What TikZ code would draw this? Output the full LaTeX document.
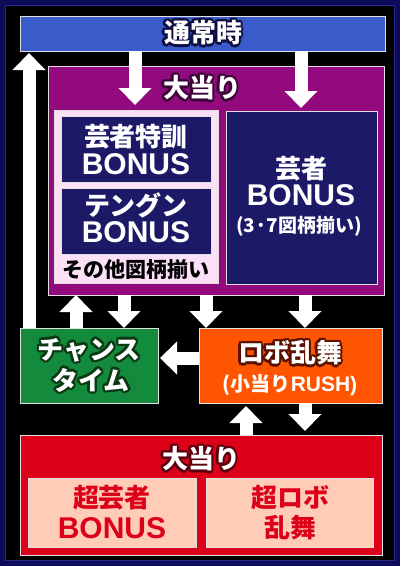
\documentclass[tikz,border=0pt]{standalone}
\usepackage{fontspec}
\newfontfamily\jp{Noto Sans CJK JP}
\newfontfamily\lat{Liberation Sans}
\usetikzlibrary{arrows.meta}
\definecolor{navyO}{HTML}{0C0C5A}
\definecolor{navyEdge}{HTML}{2A2A8A}
\definecolor{barblue}{HTML}{3A5CCA}
\definecolor{purp}{HTML}{920A7E}
\definecolor{pinkL}{HTML}{FBE0F8}
\definecolor{navyB}{HTML}{1C1A66}
\definecolor{grn}{HTML}{148A3C}
\definecolor{orng}{HTML}{FF5500}
\definecolor{redB}{HTML}{DC0018}
\definecolor{salm}{HTML}{FFCCB8}
\definecolor{olNavy}{HTML}{0E0E40}
\definecolor{olPurp}{HTML}{3A0638}
\definecolor{olGreen}{HTML}{0A3A14}
\definecolor{olBrown}{HTML}{5A1200}
\definecolor{olRed}{HTML}{5A0010}
\newcommand\olabel[5]{%
  \foreach \ang in {0,30,...,330}{\node[inner sep=0, text=#3, font=#4] at ([shift={(\ang:2.3pt)}]#2) {#5};}
  \node[inner sep=0, text=white, font=#4] (#1) at (#2) {#5};}
\begin{document}
\begin{tikzpicture}[x=1pt,y=-1pt,
  box/.style={draw=white!88!black, line width=1pt, inner sep=0, outer sep=0, anchor=north west},
  warrow/.style={draw=white, line width=13pt, -{Triangle[width=32pt,length=17pt]}},
  lbl/.style={inner sep=0},
  jpb/.style={font=\jp\bfseries\fontsize{26}{28}\selectfont},
  bon/.style={font=\lat\bfseries\fontsize{30}{32}\selectfont},
  jps/.style={font=\jp\bfseries\fontsize{19}{21}\selectfont}]
\useasboundingbox (0,0) rectangle (400,566);
\fill[navyO] (0,0) rectangle (400,566);
\fill[black] (5,5) rectangle (395,561);
\draw[navyEdge, line width=1pt] (5.5,5.5) rectangle (394.5,560.5);
% boxes
\node[box, fill=barblue, minimum width=365pt, minimum height=35pt] (tsu) at (20,16) {};
\node[box, fill=purp, minimum width=336pt, minimum height=229pt] (oat) at (48,66) {};
\node[box, fill=pinkL, minimum width=164pt, minimum height=173pt] (grp) at (54,110) {};
\node[box, fill=navyB, minimum width=150pt, minimum height=66pt] (nb1) at (61,116) {};
\node[box, fill=navyB, minimum width=150pt, minimum height=66pt] (nb2) at (61,188) {};
\node[box, fill=navyB, minimum width=151pt, minimum height=173pt] (gb) at (226,111) {};
\node[box, fill=grn, minimum width=138pt, minimum height=75pt] (chance) at (20,328) {};
\node[box, fill=orng, minimum width=183pt, minimum height=75pt] (robo) at (199,328) {};
\node[box, fill=redB, minimum width=362pt, minimum height=120pt] (red) at (20,435) {};
\node[box, fill=salm, minimum width=168pt, minimum height=69pt] (s1) at (28,478) {};
\node[box, fill=salm, minimum width=167pt, minimum height=69pt] (s2) at (206,478) {};
% arrows
\draw[warrow] ([xshift=115pt]tsu.south west) -- ([xshift=81pt,yshift=5pt]grp.north west);
\draw[warrow] ([xshift=281pt]tsu.south west) -- ([xshift=75pt,yshift=3pt]gb.north west);
\draw[warrow] ([xshift=9pt]chance.north west) -- ([xshift=9pt,yshift=-2pt]tsu.south west);
\draw[warrow] ([xshift=56pt]chance.north west) -- ([xshift=28pt]oat.south west);
\draw[warrow] ([xshift=76pt]oat.south west) -- ([xshift=104pt]chance.north west);
\draw[warrow] ([xshift=158pt]oat.south west) -- ([xshift=7pt]robo.north west);
\draw[warrow] ([xshift=257pt]oat.south west) -- ([xshift=106pt]robo.north west);
\draw[warrow] ([yshift=7.5pt]robo.west) -- ([xshift=2pt,yshift=7.5pt]chance.east);
\draw[warrow] ([xshift=226pt]red.north west) -- ([xshift=47pt,yshift=-3pt]robo.south west);
\draw[warrow] ([xshift=106pt]robo.south west) -- ([xshift=285pt,yshift=4pt]red.north west);
% texts
\olabel{t1}{203,33}{olNavy}{\jp\bfseries\fontsize{26}{28}\selectfont}{通常時}
\olabel{t2}{202,88}{olPurp}{\jp\bfseries\fontsize{26}{28}\selectfont}{大当り}
\node[lbl, jpb, text=white] (t3) at (136,137) {芸者特訓};
\node[lbl, bon, text=white] (t4) at (136,164) {BONUS};
\node[lbl, jpb, text=white] (t5) at (136,205) {テングン};
\node[lbl, bon, text=white] (t6) at (136,232) {BONUS};
\node[lbl, text=black, font=\jp\bfseries\fontsize{21}{23}\selectfont] (t7) at (136,270) {その他図柄揃い};
\node[lbl, jpb, text=white] (t8) at (301,169) {芸者};
\node[lbl, bon, text=white] (t9) at (301,195) {BONUS};
\node[lbl, jps, text=white] (t10) at (299,226) {(3·7図柄揃い)};
\olabel{t11}{89,350}{olGreen}{\jp\bfseries\fontsize{26}{28}\selectfont}{チャンス}
\olabel{t12}{91,380}{olGreen}{\jp\bfseries\fontsize{26}{28}\selectfont}{タイム}
\olabel{t13}{290,353}{olBrown}{\jp\bfseries\fontsize{26}{28}\selectfont}{ロボ乱舞}
\node[lbl, text=white] (t14) at (290,385) {{\jp\bfseries\fontsize{20}{22}\selectfont (小当り}{\lat\bfseries\fontsize{21}{23}\selectfont RUSH)}};
\olabel{t15}{201,459}{olRed}{\jp\bfseries\fontsize{26}{28}\selectfont}{大当り}
\node[lbl, jpb, text=redB] (t16) at (112,498) {超芸者};
\node[lbl, bon, text=redB] (t17) at (112,528) {BONUS};
\node[lbl, jpb, text=redB] (t18) at (290,498) {超ロボ};
\node[lbl, jpb, text=redB] (t19) at (290,528) {乱舞};
\end{tikzpicture}
\end{document}
